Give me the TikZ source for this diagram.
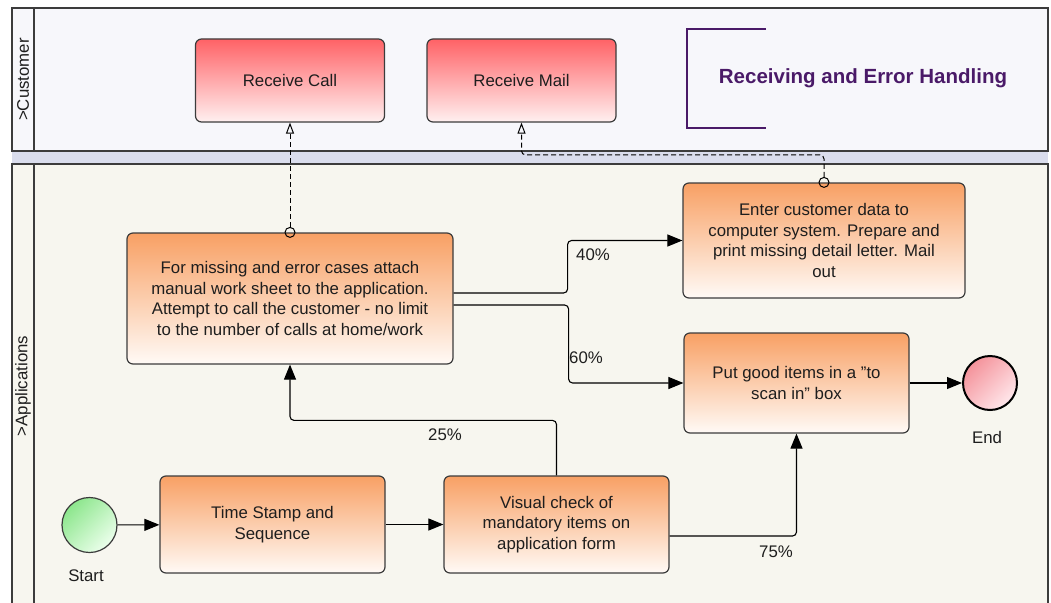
\documentclass[tikz,border=0pt]{standalone}
\usepackage{fontspec}
\setmainfont{Liberation Sans}
\usetikzlibrary{arrows.meta,shapes.geometric}
\definecolor{laneC}{RGB}{247,247,251}
\definecolor{laneA}{RGB}{247,246,239}
\definecolor{band}{RGB}{218,221,237}
\definecolor{edge}{RGB}{60,60,60}
\definecolor{orTop}{RGB}{248,160,100}
\definecolor{orBot}{RGB}{255,250,246}
\definecolor{rdTop}{RGB}{255,98,102}
\definecolor{rdBot}{RGB}{255,240,240}
\definecolor{grTop}{RGB}{140,230,140}
\definecolor{grBot}{RGB}{236,255,236}
\definecolor{pkTop}{RGB}{244,146,154}
\definecolor{pkBot}{RGB}{255,232,236}
\definecolor{titleC}{RGB}{74,26,104}
\definecolor{txt}{RGB}{30,30,30}
\begin{document}
\begin{tikzpicture}[x=1pt,y=-1pt,
  font=\fontsize{16.8}{20.5}\selectfont, text=txt,
  lane/.style={draw=edge, line width=1.2pt},
  task/.style={draw=edge, line width=1.2pt, rounded corners=6pt, top color=orTop, bottom color=orBot, align=center, inner sep=0pt},
  ctask/.style={task, top color=rdTop, bottom color=rdBot},
  flow/.style={line width=1.1pt, draw=black, -{Triangle[length=15pt,width=12pt]}, rounded corners=4pt},
  msg/.style={line width=1pt, draw=black, dash pattern=on 5pt off 3pt, -{Triangle[open,length=11pt,width=8pt]}, rounded corners=4pt},
  port/.style={circle, draw=black, line width=1pt, minimum size=10pt, inner sep=0pt},
  lbl/.style={inner sep=0pt}]
\useasboundingbox (0,0) rectangle (1051,602);
\clip (0,0) rectangle (1051,602);
\fill[white] (0,0) rectangle (1051,602);
% lanes
\fill[laneC] (12,8) rectangle (1048,151);
\fill[band] (12,151) rectangle (1048,164);
\fill[laneA] (12,164) rectangle (1048,612);
\draw[lane] (12,8) rectangle (1048,151);
\draw[lane] (34,8) -- (34,151);
\draw[lane] (12,164) rectangle (1048,612);
\draw[lane] (34,164) -- (34,612);
\node[rotate=90, lbl] (lc) at (23,79.5) {>Customer};
\node[rotate=90, lbl] (la) at (23,386) {>Applications};
% title
\draw[titleC, line width=1.2pt] (766,29) -- (687,29) -- (687,128) -- (766,128);
\node[lbl, text=titleC, font=\bfseries\fontsize{20.5}{24}\selectfont] (title) at (863,78) {Receiving and Error Handling};
% nodes
\node[ctask, minimum width=189pt, minimum height=83pt] (rc) at (290,80.5) {Receive Call};
\node[ctask, minimum width=189pt, minimum height=83pt] (rm) at (521.5,80.5) {Receive Mail};
\node[task, minimum width=326pt, minimum height=131pt] (fm) at (290,298.5) {For missing and error cases attach\\manual work sheet to the application.\\Attempt to call the customer - no limit\\to the number of calls at home/work};
\node[task, minimum width=282pt, minimum height=115pt] (ec) at (824,240.5) {Enter customer data to\\computer system. Prepare and\\print missing detail letter. Mail\\out};
\node[task, minimum width=225pt, minimum height=100pt] (pg) at (796.5,383) {Put good items in a \symbol{34}to\\scan in\symbol{34} box};
\node[task, minimum width=225pt, minimum height=97pt] (ts) at (272.5,524.5) {Time Stamp and\\Sequence};
\node[task, minimum width=225pt, minimum height=97pt] (vc) at (556.5,524.5) {Visual check of\\mandatory items on\\application form};
\node[circle, draw=edge, line width=1.2pt, minimum size=55pt, inner sep=0pt, top color=grTop, bottom color=grBot, shading angle=45] (start) at (89.5,525) {};
\node[circle, draw=black, line width=2pt, minimum size=54pt, inner sep=0pt, top color=pkTop, bottom color=pkBot, shading angle=45] (end) at (990,383) {};
\node[lbl] (startl) at (86,576) {Start};
\node[lbl] (endl) at (987,437) {End};
% flows
\draw[flow] (start) -- (ts);
\draw[flow] (ts) -- (vc);
\draw[flow] (vc.north) -- ++(0,-55) -| (fm.south);
\node[lbl] (p25) at (445,435) {25\%};
\draw[flow] ([yshift=-11.5pt]vc.east) -| (pg.south);
\node[lbl] (p75) at (776,552) {75\%};
\draw[flow] ([yshift=5.5pt]fm.east) -- ++(114,0) |- (ec.west);
\node[lbl] (p40) at (593,255) {40\%};
\draw[flow] ([yshift=-6.5pt]fm.east) -- ++(115,0) |- (pg.west);
\node[lbl] (p60) at (586,358) {60\%};
\draw[flow] (pg) -- (end);
% message flows
\node[port] (c1) at (fm.north) {};
\node[port] (c2) at (ec.north) {};
\draw[msg] (c1.north) -- (rc.south);
\draw[msg] (c2.north) -- ++(0,-22) -| (rm.south);
\end{tikzpicture}
\end{document}
